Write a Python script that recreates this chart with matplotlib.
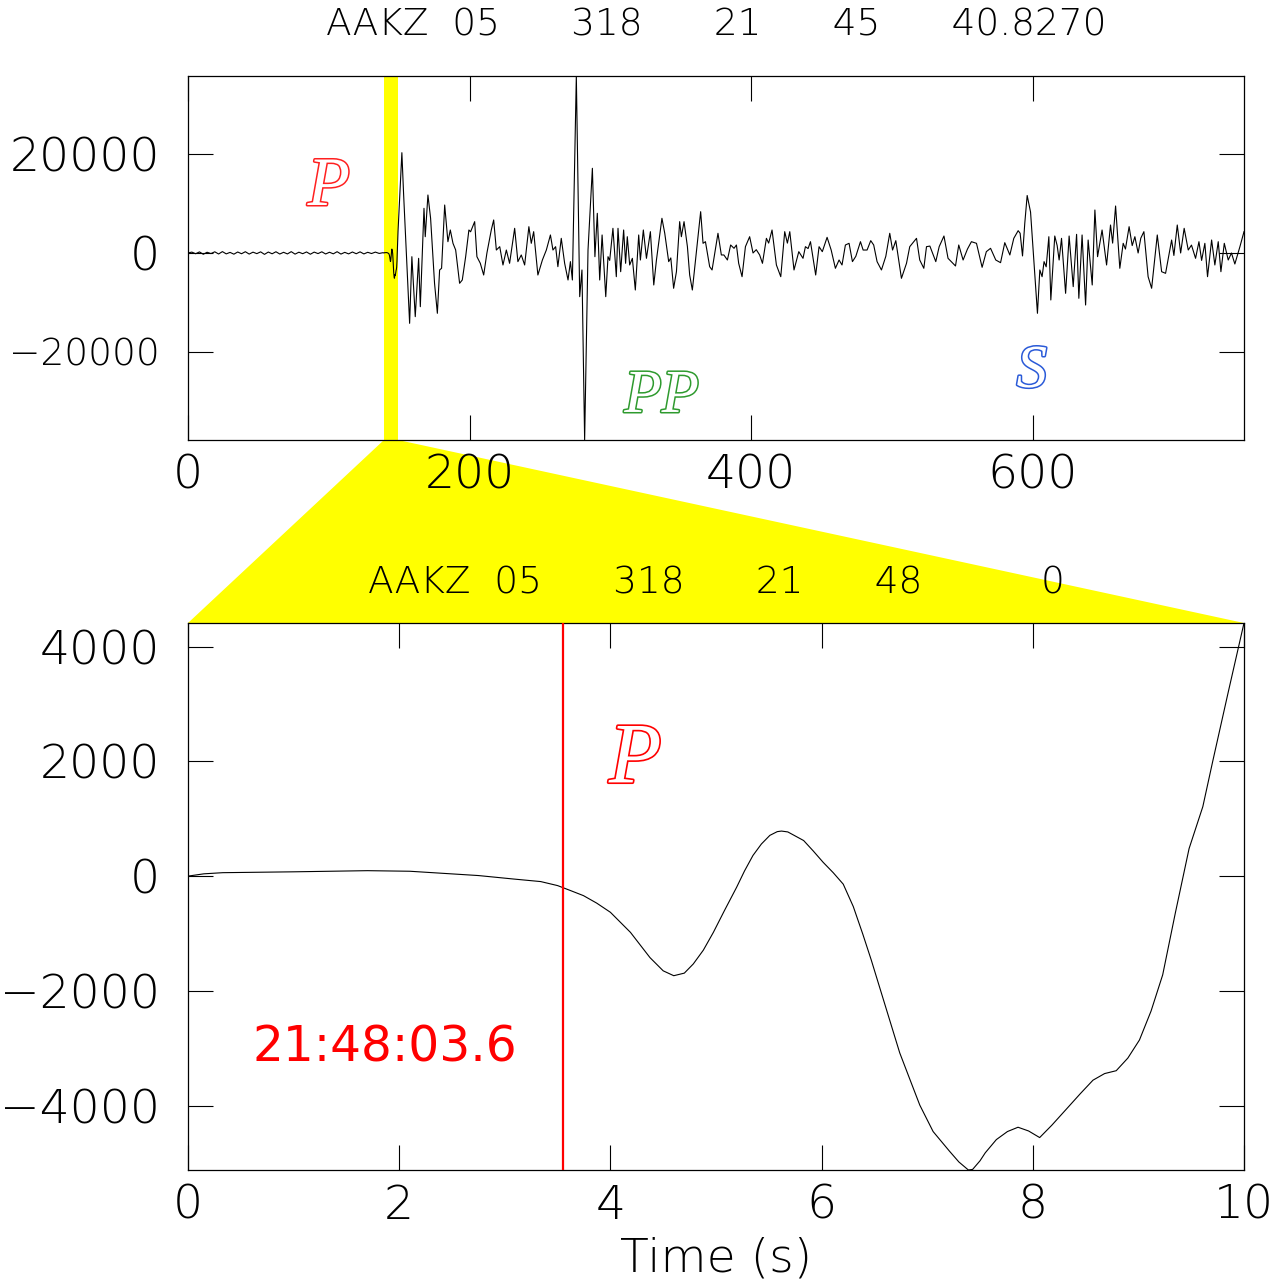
import numpy as np
import matplotlib
matplotlib.use("Agg")
import matplotlib.pyplot as plt
from matplotlib.patches import Polygon
import matplotlib.patheffects as pe
from decimal import Decimal, ROUND_HALF_UP

# ---- record header ----
station = "AAKZ"
channel = "05"
julday = "318"
rec_hour, rec_min, rec_sec = "21", "45", "40.8270"
win_hour, win_min, win_sec = "21", "48", "0"

window_start = 139.173   # s after record start (21:48:00.0)
window_len = 10.0
p_pick = 3.55            # P pick, s after window start

# ---- pre-event noise, 0 - 138.5 s ----
noise_v = [0, 180, -150, 220, -260, 150, -120, 240, -200, 280,
           -180, 120, -240, 200, -150, 260, -220, 170, -130, 230,
           -280, 190, -160, 250, -210, 140, -190, 270, -230, 160,
           -140, 210, -250, 180, -120, 240, -200, 150, -170, 260,
           -220, 130, -180, 200, -150, 230, -190, 140, -110, 180,
           -90, 60]

# ---- zoom window (10 s) ----
window_t = [0.0, 0.15, 0.33, 1.0, 1.7, 2.1, 2.75, 3.08, 3.34, 3.50,
            3.62, 3.745, 3.87, 4.0, 4.19, 4.375, 4.50, 4.60, 4.70, 4.785,
            4.88, 4.975, 5.08, 5.195, 5.27, 5.35, 5.43, 5.51, 5.58, 5.62,
            5.68, 5.83, 5.92, 6.015, 6.11, 6.205, 6.30, 6.39, 6.47, 6.55,
            6.64, 6.74, 6.84, 6.93, 7.056, 7.21, 7.30, 7.39, 7.43, 7.50,
            7.55, 7.655, 7.76, 7.86, 7.96, 8.065, 8.18, 8.32, 8.45, 8.57,
            8.68, 8.79, 8.90, 9.01, 9.12, 9.23, 9.35, 9.48, 9.61, 9.705,
            9.85, 10.0]
window_v = [0, 40, 60, 75, 95, 85, 10, -50, -95, -165,
            -250, -340, -470, -630, -980, -1420, -1650, -1735, -1690, -1530,
            -1290, -980, -600, -195, 90, 360, 560, 710, 775, 785,
            770, 620, 440, 240, 60, -140, -530, -1010, -1460, -1940,
            -2480, -3080, -3560, -3990, -4450, -4790, -4980, -5120, -5110, -4960,
            -4820, -4590, -4450, -4375, -4440, -4555, -4340, -4055, -3790, -3555,
            -3440, -3390, -3170, -2855, -2350, -1720, -640, 480, 1210, 2010,
            3200, 4410]

# ---- remainder of the record, 150 - 750 s ----
coda_t = [150.3, 151.9, 153.1, 155.0, 157.4, 159.0, 161.4, 163.8, 165.0, 167.6,
          168.5, 170.4, 172.3, 175.1, 177.1, 178.7, 180.1, 182.3, 184.6, 186.3,
          188.2, 190.1, 192.9, 194.8, 197.2, 199.5, 200.7, 203.6, 205.2, 207.6,
          210.0, 212.3, 215.4, 217.1, 219.0, 221.4, 223.7, 226.1, 228.4, 232.0,
          234.3, 236.7, 239.1, 242.1, 243.8, 245.5, 248.5, 251.7, 254.5, 257.4,
          259.2, 261.1, 262.7, 265.1, 267.5, 269.9, 271.6, 273.0, 275.8, 278.2,
          279.8, 281.7, 284.1, 287.2, 289.0, 290.7, 292.4, 294.1, 296.7, 298.3,
          299.5, 301.8, 304.2, 305.4, 307.3, 309.4, 310.8, 312.0, 313.7, 315.6,
          317.7, 320.1, 321.3, 323.4, 325.6, 328.4, 330.8, 332.7, 336.6, 338.6,
          341.4, 342.9, 344.9, 346.9, 349.2, 350.4, 352.3, 354.7, 356.3, 358.2,
          361.1, 364.1, 365.8, 367.5, 370.5, 372.2, 376.4, 378.8, 380.6, 383.1,
          385.4, 387.8, 389.5, 391.1, 393.5, 395.9, 398.9, 401.3, 403.6, 406.0,
          408.0, 410.8, 412.4, 414.8, 417.9, 421.0, 423.8, 425.7, 427.4, 430.4,
          433.8, 436.8, 438.5, 440.4, 442.1, 445.8, 448.2, 450.5, 453.9, 456.8,
          459.8, 462.4, 464.5, 466.9, 469.5, 471.9, 474.3, 477.6, 479.5, 482.3,
          484.9, 487.0, 489.4, 492.5, 495.6, 498.4, 500.4, 502.7, 506.7, 510.3,
          512.6, 517.4, 519.7, 522.6, 524.5, 526.9, 531.1, 533.5, 536.9, 539.8,
          545.1, 547.4, 550.5, 553.6, 556.4, 560.0, 564.0, 567.0, 570.0, 573.7,
          577.1, 580.1, 583.7, 586.5, 589.6, 591.0, 592.7, 594.3, 596.0, 598.4,
          603.3, 605.0, 606.6, 608.0, 609.5, 611.4, 612.8, 615.6, 617.3, 618.7,
          620.4, 623.3, 625.8, 628.7, 631.1, 632.7, 635.0, 637.5, 639.3, 642.2,
          644.1, 646.0, 649.2, 652.4, 655.2, 656.7, 658.8, 661.8, 664.2, 665.8,
          668.4, 670.6, 672.5, 674.8, 676.7, 678.9, 681.9, 684.4, 688.4, 691.5,
          694.3, 698.6, 700.2, 702.6, 705.0, 707.5, 710.4, 712.7, 715.6, 718.0,
          719.9, 722.2, 724.1, 727.0, 729.3, 731.7, 733.6, 736.0, 738.8, 741.1,
          743.5, 747.1, 750.0]
coda_v = [11080, 20320, 12090, 600, -14250, -750, -12900, -1080, -10880, 9050,
          3300, 11750, 7030, -6140, -12220, -3440, -3100, 9720, 2290, 4660,
          1960, 610, -6140, -5470, -750, 4660, 4300, 6350, -750, -2090,
          -4460, 0, 4660, 6690, 600, 1280, -2430, 600, -2090, 5000,
          -1750, -400, -2430, 5330, 1960, 4320, -4460, -1420, 600, 3650,
          600, 1280, -2770, 2970, -2090, -5470, -1750, -5470, 35860, -8850,
          -3440, -37890, 600, 17160, -750, 8040, -5470, 3650, -8850, -750,
          -1500, 5000, -4800, 5000, -3790, 4660, -2090, 3300, -2430, -1080,
          -7500, 3650, -1420, 4660, -1080, 4320, -6480, -1420, 7030, 3990,
          -1750, -1000, -7150, -3790, 6350, 3300, 6350, 1280, -4460, -7500,
          270, 8370, 1960, 2290, -2770, -3440, 3990, -400, -400, -1420,
          1620, 950, 1620, -2090, -4800, 1280, 3300, 0, 670, -400,
          -2090, 2970, 2000, 4660, -2430, -4800, 4320, 2000, 4320, -3440,
          270, -1080, 1280, 900, 2290, -4460, 1280, 270, 3170, 600,
          -3100, -1420, -2430, 1620, 1960, -1750, -675, 2290, 600, 600,
          2500, 1620, -1750, -3440, -675, 3990, 600, 2500, -5130, -2090,
          1280, 2970, -1420, -3100, 1280, 1400, -1750, 1280, 3440, -1080,
          -2630, 1620, -1420, 800, 2290, 1960, -2900, 270, 950, -1420,
          -1960, 2090, -400, 2970, 4520, 4000, -600, 6010, 11650, 8300,
          -12220, -3440, -4800, -1750, -2800, 3300, -9520, 3440, 1500, -1420,
          2970, -8170, 3440, -6820, 3780, -9180, 3650, -10540, 2630, -6480,
          8710, -750, 4660, -2430, 5670, 2000, 9520, -3100, 1960, 800,
          5330, 1500, 3300, 0, 3000, 4320, -4800, -7150, 3650, -3790,
          -4120, 2630, -500, 5670, 0, 5000, 600, 1600, -1080, 2290,
          -1500, 1960, -4800, 2630, -2430, 2290, -3790, 1960, -1420, 0,
          -2230, 1280, 4320]

# phase labels: (name, time in record, amplitude, colour, size)
phases = [("P", 100.0, 9725, "#ff2020", 50),
          ("PP", 336.4, -32210, "#2e9a2e", 44),
          ("S", 599.3, -27150, "#2a5ad8", 44)]

# ---- assemble the full trace ----
noise_t = np.linspace(0.0, 138.5, len(noise_v))
trace_t = np.concatenate([noise_t, window_start + np.asarray(window_t), coda_t])
trace_v = np.concatenate([noise_v, window_v, coda_v])

plt.rcParams["font.family"] = ["DejaVu Sans"]
plt.rcParams["font.weight"] = "light"
plt.rcParams["axes.titleweight"] = "light"
plt.rcParams["axes.labelweight"] = "light"

W, H = 1277, 1284
fig = plt.figure(figsize=(W / 100, H / 100), dpi=100)
fig.patch.set_facecolor("white")

ax_top = fig.add_axes([188 / W, 1 - 440 / H, 1056 / W, 364 / H])
ax_bot = fig.add_axes([188 / W, 1 - 1170 / H, 1056 / W, 547 / H])

tick_kw = dict(direction="in", length=18, width=0.8, top=True, right=True,
               labelsize=34)
for ax in (ax_top, ax_bot):
    ax.tick_params(axis="both", **tick_kw)
    ax.tick_params(axis="x", pad=10)
    ax.tick_params(axis="y", pad=20)
    for s in ax.spines.values():
        s.set_linewidth(0.9)

# top: whole record
ax_top.axvspan(window_start, window_start + window_len, color="#ffff00",
               lw=0, zorder=0)
ax_top.plot(trace_t, trace_v, color="black", lw=0.8, zorder=2)
ax_top.set_xlim(0, 750)
ax_top.set_ylim(trace_v.min(), trace_v.max())
ax_top.set_xticks([0, 200, 400, 600])
ax_top.set_yticks([-20000, 0, 20000])
# the long negative label is drawn smaller so it fits the margin
ax_top.yaxis.get_major_ticks()[0].label1.set_fontsize(27)
ax_top.set_title(f"{station}  {channel}      {julday}      {rec_hour}      "
                 f"{rec_min}      {rec_sec}", fontsize=27, pad=29,
                 fontweight="light")
for name, t, v, col, size in phases:
    ax_top.text(t, v, name, color="white", fontsize=size, ha="center",
                va="baseline", family="Liberation Serif", style="italic",
                path_effects=[pe.withStroke(linewidth=2.2, foreground=col)],
                zorder=3)

# bottom: zoom window
ax_bot.plot(window_t, window_v, color="black", lw=0.8, zorder=2)
ax_bot.axvline(p_pick, color="#ff0000", lw=1.6, zorder=3)
ax_bot.set_xlim(0, window_len)
ax_bot.set_ylim(min(window_v), max(window_v))
ax_bot.set_xticks(np.arange(0, 11, 2))
ax_bot.set_yticks([-4000, -2000, 0, 2000, 4000])
ax_bot.set_xlabel("Time (s)", fontsize=34, labelpad=6, fontweight="light")
ax_bot.set_title(f"{station}  {channel}      {julday}      {win_hour}      "
                 f"{win_min}          {win_sec}", fontsize=27, pad=21,
                 fontweight="light")
ax_bot.text(4.235, 1633, "P", color="white", fontsize=62, ha="center",
            va="baseline", family="Liberation Serif", style="italic",
            path_effects=[pe.withStroke(linewidth=2.4, foreground="#ff0000")],
            zorder=3)
pick_sec = Decimal(str(p_pick)).quantize(Decimal("0.1"), ROUND_HALF_UP)
ax_bot.text(1.868, -3223, f"{win_hour}:{win_min}:{float(pick_sec):04.1f}",
            color="#ff0000", fontsize=35, ha="center", va="baseline",
            fontweight="normal", zorder=3)

# yellow funnel linking the window band to the zoom panel
to_fig = fig.transFigure.inverted()
y0 = ax_top.get_ylim()[0]
y1 = ax_bot.get_ylim()[1]
corners = [ax_top.transData.transform((window_start, y0)),
           ax_top.transData.transform((window_start + window_len, y0)),
           ax_bot.transData.transform((window_len, y1)),
           ax_bot.transData.transform((0, y1))]
funnel = Polygon(to_fig.transform(np.array(corners)), closed=True,
                 facecolor="#ffff00", edgecolor="none",
                 transform=fig.transFigure, zorder=-1)
fig.patches.append(funnel)

fig.savefig("out.png", dpi=100)
